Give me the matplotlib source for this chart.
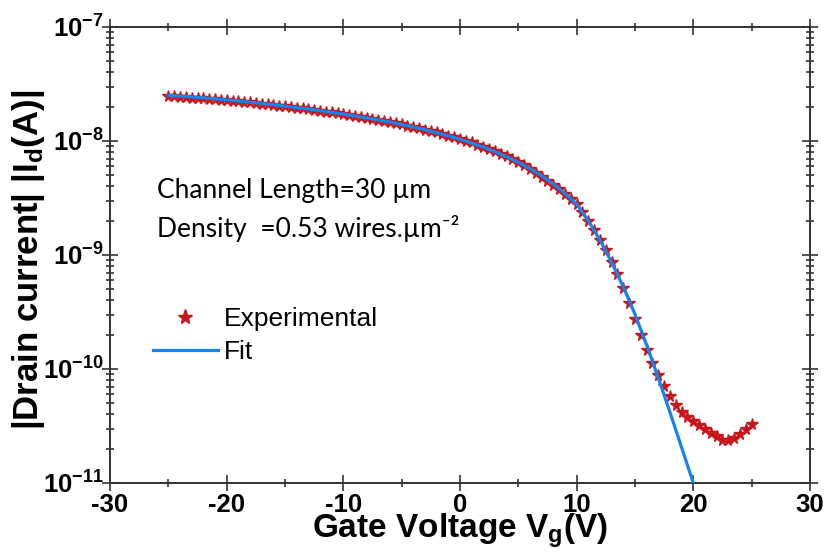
import numpy as np
import matplotlib
matplotlib.use("Agg")
import matplotlib.pyplot as plt
from matplotlib.ticker import LogLocator, MultipleLocator, FuncFormatter
from matplotlib.lines import Line2D

plt.rcParams['font.family'] = ['Liberation Sans', 'DejaVu Sans']
plt.rcParams['mathtext.fontset'] = 'custom'
plt.rcParams['mathtext.rm'] = 'Liberation Sans'
plt.rcParams['mathtext.bf'] = 'Liberation Sans:bold'
plt.rcParams['mathtext.it'] = 'Liberation Sans:italic'
plt.rcParams['axes.unicode_minus'] = False

# transfer curve, Vg swept -25..25 V in 0.5 V steps, log10(|Id| / A)
vg_exp = np.arange(-25.0, 25.01, 0.5)
log_id_exp = [
    -7.605, -7.608, -7.612, -7.615, -7.619, -7.623, -7.627, -7.631, -7.635, -7.639,
    -7.643, -7.647, -7.652, -7.657, -7.662, -7.667, -7.673, -7.678, -7.684, -7.690,
    -7.696, -7.702, -7.708, -7.714, -7.721, -7.728, -7.735, -7.742, -7.749, -7.756,
    -7.764, -7.772, -7.780, -7.788, -7.797, -7.806, -7.815, -7.824, -7.834, -7.844,
    -7.855, -7.866, -7.877, -7.888, -7.900, -7.912, -7.925, -7.938, -7.952, -7.966,
    -7.981, -7.997, -8.013, -8.031, -8.050, -8.070, -8.090, -8.112, -8.135, -8.159,
    -8.185, -8.214, -8.245, -8.279, -8.315, -8.350, -8.385, -8.424, -8.465, -8.508,
    -8.555, -8.625, -8.700, -8.780, -8.870, -8.960, -9.060, -9.170, -9.290, -9.420,
    -9.560, -9.700, -9.830, -9.950, -10.050, -10.150, -10.240, -10.315, -10.375, -10.420,
    -10.455, -10.490, -10.525, -10.560, -10.590, -10.620, -10.625, -10.605, -10.570, -10.530,
    -10.480,
]

# model fit, 1 V steps
vg_fit = np.arange(-25.0, 20.01, 1.0)
log_id_fit = [
    -7.600, -7.606, -7.613, -7.621, -7.630, -7.639, -7.649, -7.659, -7.670, -7.682,
    -7.694, -7.707, -7.720, -7.734, -7.749, -7.764, -7.780, -7.797, -7.815, -7.834,
    -7.855, -7.877, -7.901, -7.927, -7.955, -7.985, -8.018, -8.054, -8.094, -8.138,
    -8.187, -8.243, -8.306, -8.378, -8.460, -8.553, -8.700, -8.870, -9.065, -9.280,
    -9.520, -9.790, -10.080, -10.380, -10.690, -11.000,
]

id_exp = 10.0 ** np.array(log_id_exp)
id_fit = 10.0 ** np.array(log_id_fit)

red = '#c8161d'
blue = '#1384f0'

fig = plt.figure(figsize=(8.24, 5.53), dpi=100)
ax = fig.add_axes([0.1335, 0.1266, 0.8495, 0.8246])

ax.plot(vg_exp, id_exp, linestyle='none', marker='*', ms=8.5,
        color=red, markeredgecolor=red, zorder=2)
ax.plot(vg_fit, id_fit, color=blue, lw=2.3, zorder=3)

ax.set_yscale('log')
ax.set_xlim(-30, 30)
ax.set_ylim(1e-11, 1e-7)

ax.xaxis.set_major_locator(MultipleLocator(10))
ax.xaxis.set_minor_locator(MultipleLocator(5))
ax.yaxis.set_major_locator(LogLocator(base=10, numticks=10))
ax.yaxis.set_minor_locator(LogLocator(base=10, subs=np.arange(2, 10), numticks=20))
ax.yaxis.set_major_formatter(
    FuncFormatter(lambda v, p: r'$\mathbf{10^{%d}}$' % int(round(np.log10(v)))))
ax.yaxis.set_minor_formatter(FuncFormatter(lambda v, p: ''))

for s in ax.spines.values():
    s.set_linewidth(1.4)
    s.set_color('#333333')

ax.tick_params(which='both', direction='inout', top=True, right=True,
               color='#333333', width=1.2)
ax.tick_params(which='major', length=12)
ax.tick_params(which='minor', length=6)
ax.tick_params(axis='x', which='major', labelsize=18.5, pad=1)
ax.tick_params(axis='y', which='major', labelsize=18.5, pad=-1.5)
for lab in ax.get_xticklabels():
    lab.set_fontweight('bold')

ax.set_xlabel(r'Gate Voltage V$_\mathbf{g}$(V)', fontsize=24, fontweight='bold')
ax.xaxis.set_label_coords(0.5, -0.062)
ax.set_ylabel(r'|Drain current| |I$_\mathbf{d}$(A)|', fontsize=25, fontweight='bold')
ax.yaxis.set_label_coords(-0.09, 0.489)

ax.text(0.067, 0.6425, 'Channel Length=30 \u00b5m', transform=ax.transAxes,
        family=['Lato', 'DejaVu Sans'], fontsize=19, va='center')
ax.text(0.067, 0.559, 'Density  =0.53 wires.\u00b5m\u207b\u00b2', transform=ax.transAxes,
        family=['Lato', 'DejaVu Sans'], fontsize=19, va='center')

handles = [
    Line2D([], [], linestyle='none', marker='*', ms=11, color=red),
    Line2D([], [], color=blue, lw=2.3),
]
fig.legend(handles, ['Experimental', 'Fit'], loc='upper left',
           bbox_to_anchor=(0.1857, 0.445), frameon=False, fontsize=19,
           handlelength=2.45, handletextpad=0.25, labelspacing=0.36,
           borderpad=0, borderaxespad=0)

fig.savefig('out.png', dpi=100)
